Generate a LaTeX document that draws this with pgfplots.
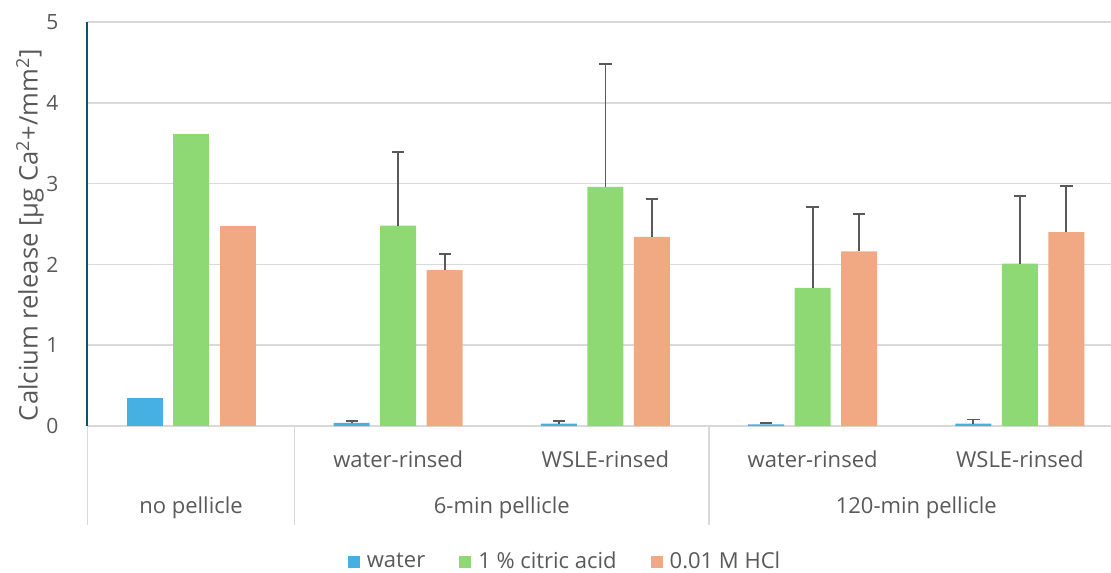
\documentclass[border=0pt]{standalone}
\usepackage{pgfplots}
\pgfplotsset{compat=1.18}
\usepackage{pgfplotstable}
\usepackage{fontspec}
\setmainfont{Open Sans}
\definecolor{cwater}{RGB}{69,176,225}
\definecolor{ccitric}{RGB}{142,217,115}
\definecolor{chcl}{RGB}{241,169,131}
\definecolor{txt}{RGB}{89,89,89}
\definecolor{grd}{RGB}{217,217,217}
\definecolor{axteal}{RGB}{20,80,110}
\definecolor{errc}{RGB}{89,89,89}

% rows with error bars (pellicle groups)
\pgfplotstableread{
x y e
1 0.04 0.02
2 0.03 0.03
3 0.02 0.02
4 0.03 0.05
}\water
\pgfplotstableread{
x y e
1 2.48 0.91
2 2.96 1.52
3 1.71 1.00
4 2.01 0.84
}\citric
\pgfplotstableread{
x y e
1 1.93 0.20
2 2.34 0.47
3 2.16 0.46
4 2.40 0.57
}\hcl
% no pellicle group (no error bars)
\pgfplotstableread{
x y
0 0.35
}\waterO
\pgfplotstableread{
x y
0 3.62
}\citricO
\pgfplotstableread{
x y
0 2.47
}\hclO

\begin{document}
\begin{tikzpicture}
\path[use as bounding box] (0,0) rectangle (555.5pt,286pt);
\begin{axis}[
  at={(43.7pt,73pt)}, anchor=south west,
  scale only axis, width=511.8pt, height=202pt,
  xmin=-0.5, xmax=4.44, ymin=0, ymax=5,
  clip=false,
  ybar, bar width=18pt,
  axis line style={draw=none},
  ymajorgrids, grid style={draw=grd, line width=0.75pt},
  major tick length=0pt,
  ytick={0,1,2,3,4,5},
  xtick={0,1,2,3,4},
  xticklabels={{},water-rinsed,WSLE-rinsed,water-rinsed,WSLE-rinsed},
  xticklabel style={anchor=center, yshift=-16.5pt, font=\fontsize{11}{13}\selectfont, text=txt},
  yticklabel style={font=\fontsize{10.5}{12}\selectfont, text=txt, xshift=-11pt},
  /pgf/number format/assume math mode=true,
  ylabel={Calcium release [µg Ca\textsuperscript{2}+/mm\textsuperscript{2}]},
  every axis y label/.style={at={(axis description cs:-0.0561,0.473)}, rotate=90, anchor=center, font=\fontsize{12.8}{14}\selectfont, text=txt},
  legend style={at={(axis description cs:0.4676,-0.3366)}, anchor=center, draw=none, fill=none,
    legend columns=-1, font=\fontsize{11}{13}\selectfont, text=txt,
    /tikz/every even column/.append style={column sep=15pt}},
  legend image code/.code={\fill[#1] (0pt,-3pt) rectangle (6pt,3pt);},
  error bars/error bar style={draw=errc, line width=0.9pt},
  error bars/error mark options={draw=errc, rotate=90, mark size=3.1pt, line width=0.9pt},
]
\addplot[fill=cwater, draw=none, bar shift=-23.25pt, error bars/y dir=plus, error bars/y explicit] table[x=x, y=y, y error=e] {\water};
\addplot[fill=ccitric, draw=none, bar shift=0pt, error bars/y dir=plus, error bars/y explicit] table[x=x, y=y, y error=e] {\citric};
\addplot[fill=chcl, draw=none, bar shift=23.25pt, error bars/y dir=plus, error bars/y explicit] table[x=x, y=y, y error=e] {\hcl};
\addplot[fill=cwater, draw=none, bar shift=-23.25pt, forget plot] table[x=x, y=y] {\waterO};
\addplot[fill=ccitric, draw=none, bar shift=0pt, forget plot] table[x=x, y=y] {\citricO};
\addplot[fill=chcl, draw=none, bar shift=23.25pt, forget plot] table[x=x, y=y] {\hclO};
\legend{\hspace{1.5pt}water, \hspace{1.5pt}1 \% citric acid, \hspace{1.5pt}0.01 M HCl}
\draw[grd, line width=0.75pt] (axis cs:-0.5,0) -- ([yshift=-49.5pt]axis cs:-0.5,0);
\draw[grd, line width=0.75pt] (axis cs:0.5,0) -- ([yshift=-49.5pt]axis cs:0.5,0);
\draw[grd, line width=0.75pt] (axis cs:2.5,0) -- ([yshift=-49.5pt]axis cs:2.5,0);
\draw[draw=axteal, line width=1pt] (axis cs:-0.5,0) -- (axis cs:-0.5,5);
\node[text=txt, font=\fontsize{11}{13}\selectfont] at ([yshift=-41pt]axis cs:0,0) {no pellicle};
\node[text=txt, font=\fontsize{11}{13}\selectfont] at ([yshift=-41pt]axis cs:1.5,0) {6-min pellicle};
\node[text=txt, font=\fontsize{11}{13}\selectfont] at ([yshift=-41pt]axis cs:3.5,0) {120-min pellicle};
\end{axis}
\end{tikzpicture}
\end{document}
